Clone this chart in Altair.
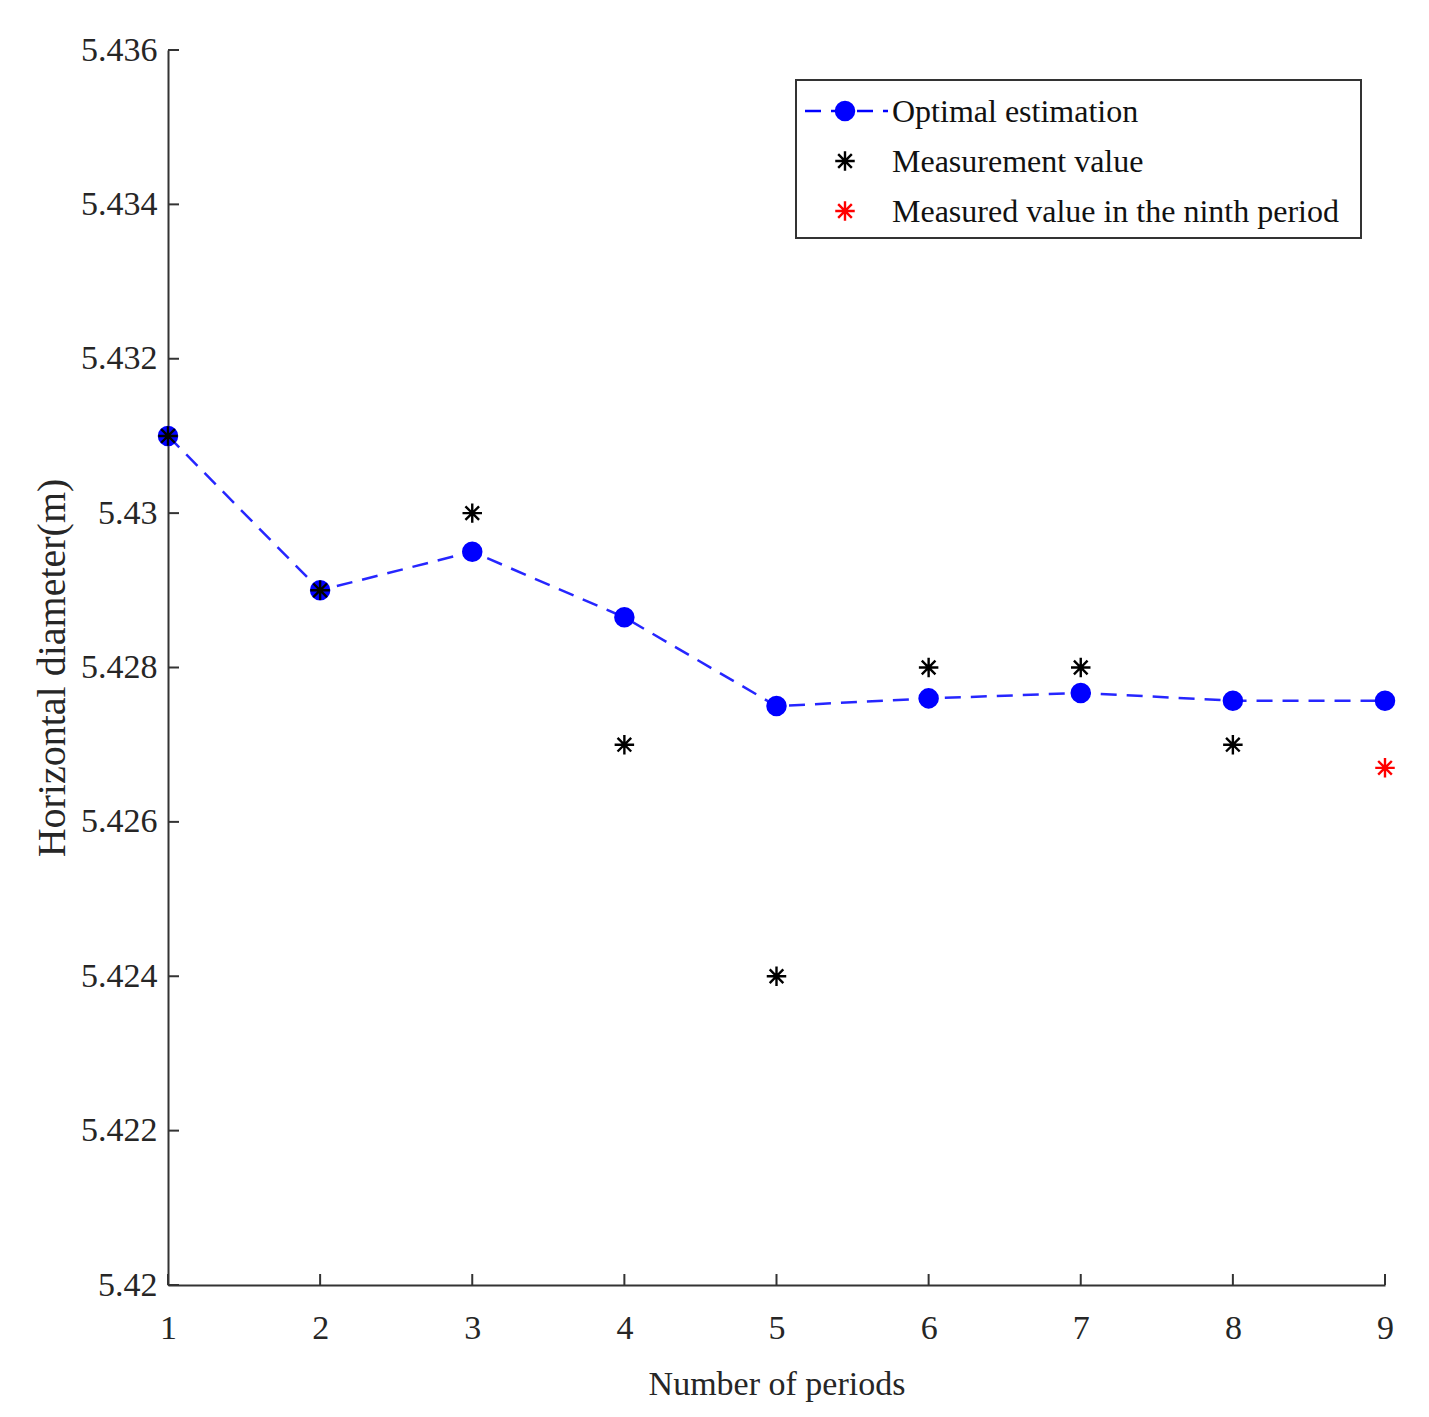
import pandas as pd
import altair as alt

# data
periods = [1, 2, 3, 4, 5, 6, 7, 8, 9]
optimal = [5.431, 5.429, 5.4295, 5.42865, 5.4275, 5.4276, 5.42767, 5.42757, 5.42757]
meas_periods = [1, 2, 3, 4, 5, 6, 7, 8]
measured = [5.431, 5.429, 5.430, 5.427, 5.424, 5.428, 5.428, 5.427]
ninth_period = [9]
ninth_value = [5.4267]
y_ticks = [5.42, 5.422, 5.424, 5.426, 5.428, 5.43, 5.432, 5.434, 5.436]
x_ticks = [1, 2, 3, 4, 5, 6, 7, 8, 9]
legend_labels = ["Optimal estimation", "Measurement value", "Measured value in the ninth period"]

W, H = 1217, 1235
FONT = "Liberation Serif"
STAR = "M-1,0L1,0M0,-1L0,1M-0.7,-0.7L0.7,0.7M-0.7,0.7L0.7,-0.7"
BLUE = "#0000ff"

opt_df = pd.DataFrame({"period": periods, "value": optimal})
meas_df = pd.DataFrame({"period": meas_periods, "value": measured})
ninth_df = pd.DataFrame({"period": ninth_period, "value": ninth_value})
ytick_df = pd.DataFrame({"v": y_ticks})
xtick_df = pd.DataFrame({"v": x_ticks})

xs = alt.Scale(domain=[1, 9], nice=False, zero=False)
ys = alt.Scale(domain=[5.42, 5.436], nice=False, zero=False)

x_axis = alt.Axis(values=x_ticks, format="d", tickSize=0, labelPadding=26,
                  labelFlush=False, title="Number of periods", titlePadding=22, grid=False)
y_axis = alt.Axis(values=y_ticks, format="~g", tickSize=0, labelPadding=11,
                  labelFlush=False, title="Horizontal diameter(m)", titlePadding=8,
                  titleFontSize=40, grid=False)

line = alt.Chart(opt_df).mark_line(
    color=BLUE, strokeWidth=2.5, strokeDash=[16, 10], opacity=0.85
).encode(
    x=alt.X("period:Q", scale=xs, axis=x_axis),
    y=alt.Y("value:Q", scale=ys, axis=y_axis),
)

dots = alt.Chart(opt_df).mark_point(
    shape="circle", filled=True, color=BLUE, size=420, opacity=1
).encode(x=alt.X("period:Q", scale=xs), y=alt.Y("value:Q", scale=ys))

stars = alt.Chart(meas_df).mark_point(
    shape=STAR, filled=False, color="black", size=380, strokeWidth=2.4, opacity=1
).encode(x=alt.X("period:Q", scale=xs), y=alt.Y("value:Q", scale=ys))

red_star = alt.Chart(ninth_df).mark_point(
    shape=STAR, filled=False, color="red", size=380, strokeWidth=2.4, opacity=1
).encode(x=alt.X("period:Q", scale=xs), y=alt.Y("value:Q", scale=ys))

# inward ticks, MATLAB style
yticks = alt.Chart(ytick_df).mark_rule(color="#333333", strokeWidth=2).encode(
    y=alt.Y("v:Q", scale=ys), x=alt.value(0), x2=alt.value(11)
)
xticks = alt.Chart(xtick_df).mark_rule(color="#333333", strokeWidth=2).encode(
    x=alt.X("v:Q", scale=xs), y=alt.value(H), y2=alt.value(H - 11)
)

# hand-made legend box in the upper right
leg_box = alt.Chart(pd.DataFrame({"a": [0]})).mark_rect(
    fill="white", stroke="#333333", strokeWidth=2
).encode(x=alt.value(628), x2=alt.value(1193), y=alt.value(30), y2=alt.value(188))

leg_line = alt.Chart(pd.DataFrame({"a": [0]})).mark_rule(
    color=BLUE, strokeWidth=2.5, strokeDash=[16, 10]
).encode(x=alt.value(637), x2=alt.value(720), y=alt.value(61))

leg_dot = alt.Chart(pd.DataFrame({"a": [0]})).mark_point(
    shape="circle", filled=True, color=BLUE, size=420, opacity=1
).encode(x=alt.value(677), y=alt.value(61))

leg_star = alt.Chart(pd.DataFrame({"a": [0]})).mark_point(
    shape=STAR, filled=False, color="black", size=380, strokeWidth=2.4, opacity=1
).encode(x=alt.value(677), y=alt.value(111))

leg_red = alt.Chart(pd.DataFrame({"a": [0]})).mark_point(
    shape=STAR, filled=False, color="red", size=380, strokeWidth=2.4, opacity=1
).encode(x=alt.value(677), y=alt.value(161))

leg_text = alt.layer(*[
    alt.Chart(pd.DataFrame({"t": [lab]})).mark_text(
        align="left", baseline="middle", font=FONT, fontSize=32, color="#111111"
    ).encode(text="t:N", x=alt.value(724), y=alt.value(62 + 50 * i))
    for i, lab in enumerate(legend_labels)
])

chart = alt.layer(
    line, dots, stars, red_star, yticks, xticks,
    leg_box, leg_line, leg_dot, leg_star, leg_red, leg_text
).properties(
    width=W, height=H,
    autosize=alt.AutoSizeParams(type="none"),
    padding={"left": 160, "top": 42, "right": 30, "bottom": 130},
).configure_view(
    stroke=None
).configure_axis(
    domainColor="#333333", domainWidth=2,
    labelFont=FONT, labelFontSize=34, labelColor="#262626",
    titleFont=FONT, titleFontSize=34, titleColor="#262626", titleFontWeight="normal",
)

chart.save("out.html", embed_options={"renderer": "svg", "actions": False})
